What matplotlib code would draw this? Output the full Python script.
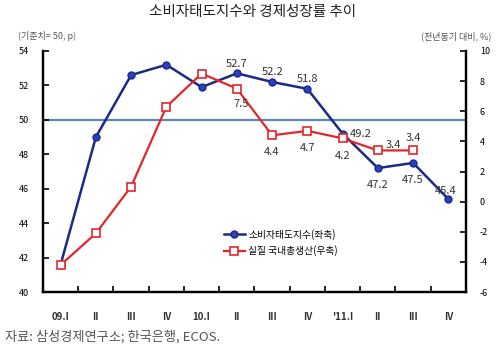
import matplotlib
matplotlib.use('Agg')
import numpy as np
import matplotlib.pyplot as plt

plt.rcParams['font.family'] = ['Noto Sans CJK KR', 'DejaVu Sans']
plt.rcParams['axes.unicode_minus'] = False

# data
quarters = ['09.I', 'II', 'III', 'IV', '10.I', 'II', 'III', 'IV', "'11.I", 'II', 'III', 'IV']
csi = [41.6, 49.0, 52.6, 53.2, 51.9, 52.7, 52.2, 51.8, 49.2, 47.2, 47.5, 45.4]
gdp = [-4.2, -2.1, 1.0, 6.3, 8.5, 7.5, 4.4, 4.7, 4.2, 3.4, 3.4]

# labelled points: (index, text offset in points)
csi_lab = {5: (0, 7), 6: (0, 7), 7: (0, 7), 8: (13, 0), 9: (0, -12), 10: (0, -12), 11: (-2, 6)}
gdp_lab = {5: (3, -11), 6: (0, -12), 7: (0, -12), 8: (0, -13), 9: (11, 4), 10: (0, 9)}

navy = '#1c2a84'
red = '#e1272b'

fig = plt.figure(figsize=(5, 3.49), dpi=100)
ax = fig.add_axes([0.086, 0.163, 0.846, 0.691])
ax2 = ax.twinx()

x = np.arange(len(quarters)) + 0.5

ax.axhline(50, color='#5b86b5', lw=1.6, zorder=1)
l1, = ax.plot(x, csi, color=navy, lw=1.8, marker='o', ms=5, mfc='#2b3fbf', mec=navy, zorder=3)
l2, = ax2.plot(x[:len(gdp)], gdp, color=red, lw=1.6, marker='s', ms=5.5, mfc='white', mec=red, mew=1.2)

for i, off in csi_lab.items():
    ax.annotate(f'{csi[i]:.1f}', (x[i], csi[i]), xytext=off, textcoords='offset points',
                ha='center', va='center', fontsize=8, color='#333333', zorder=5)
for i, off in gdp_lab.items():
    ax2.annotate(f'{gdp[i]:.1f}', (x[i], gdp[i]), xytext=off, textcoords='offset points',
                 ha='center', va='center', fontsize=8, color='#333333')

ax.set_xlim(0, 12)
ax.set_ylim(40, 54)
ax2.set_ylim(-6, 10)
ax.set_yticks(np.arange(40, 55, 2))
ax2.set_yticks(np.arange(-6, 11, 2))
ax.set_xticks(np.arange(0, 13))
ax.set_xticklabels([])
ax.set_xticks(x, minor=True)
ax.set_xticklabels(quarters, minor=True, fontsize=7, fontweight='bold', color='#333333')
ax.tick_params(axis='x', which='minor', length=0, pad=14)
ax.tick_params(axis='x', which='major', direction='in', length=4, width=1.2)
ax.tick_params(axis='y', direction='in', length=4, width=1.2, labelsize=6.5, pad=10)
ax2.tick_params(axis='y', direction='in', length=4, width=1.2, labelsize=6.5, pad=10)

for a in (ax, ax2):
    a.spines['top'].set_visible(False)
    for s in ('left', 'right', 'bottom'):
        a.spines[s].set_linewidth(1.6)

fig.text(0.506, 0.965, '소비자태도지수와 경제성장률 추이', ha='center', va='center', fontsize=10.5, color='#222222')
fig.text(0.036, 0.897, '(기준치= 50, p)', ha='left', va='center', fontsize=6.5, color='#555555')
fig.text(0.982, 0.897, '(전년동기 대비, %)', ha='right', va='center', fontsize=6.5, color='#555555')
fig.text(0.01, 0.035, '자료: 삼성경제연구소; 한국은행, ECOS.', ha='left', va='center', fontsize=9.5, color='#555555')

fig.legend([l1, l2], ['소비자태도지수(좌축)', '실질 국내총생산(우축)'], loc='upper left',
           bbox_to_anchor=(0.43, 0.37), frameon=False, fontsize=7, handlelength=2.2,
           handletextpad=0.3, labelspacing=0.6)

fig.savefig('out.png', dpi=100)
